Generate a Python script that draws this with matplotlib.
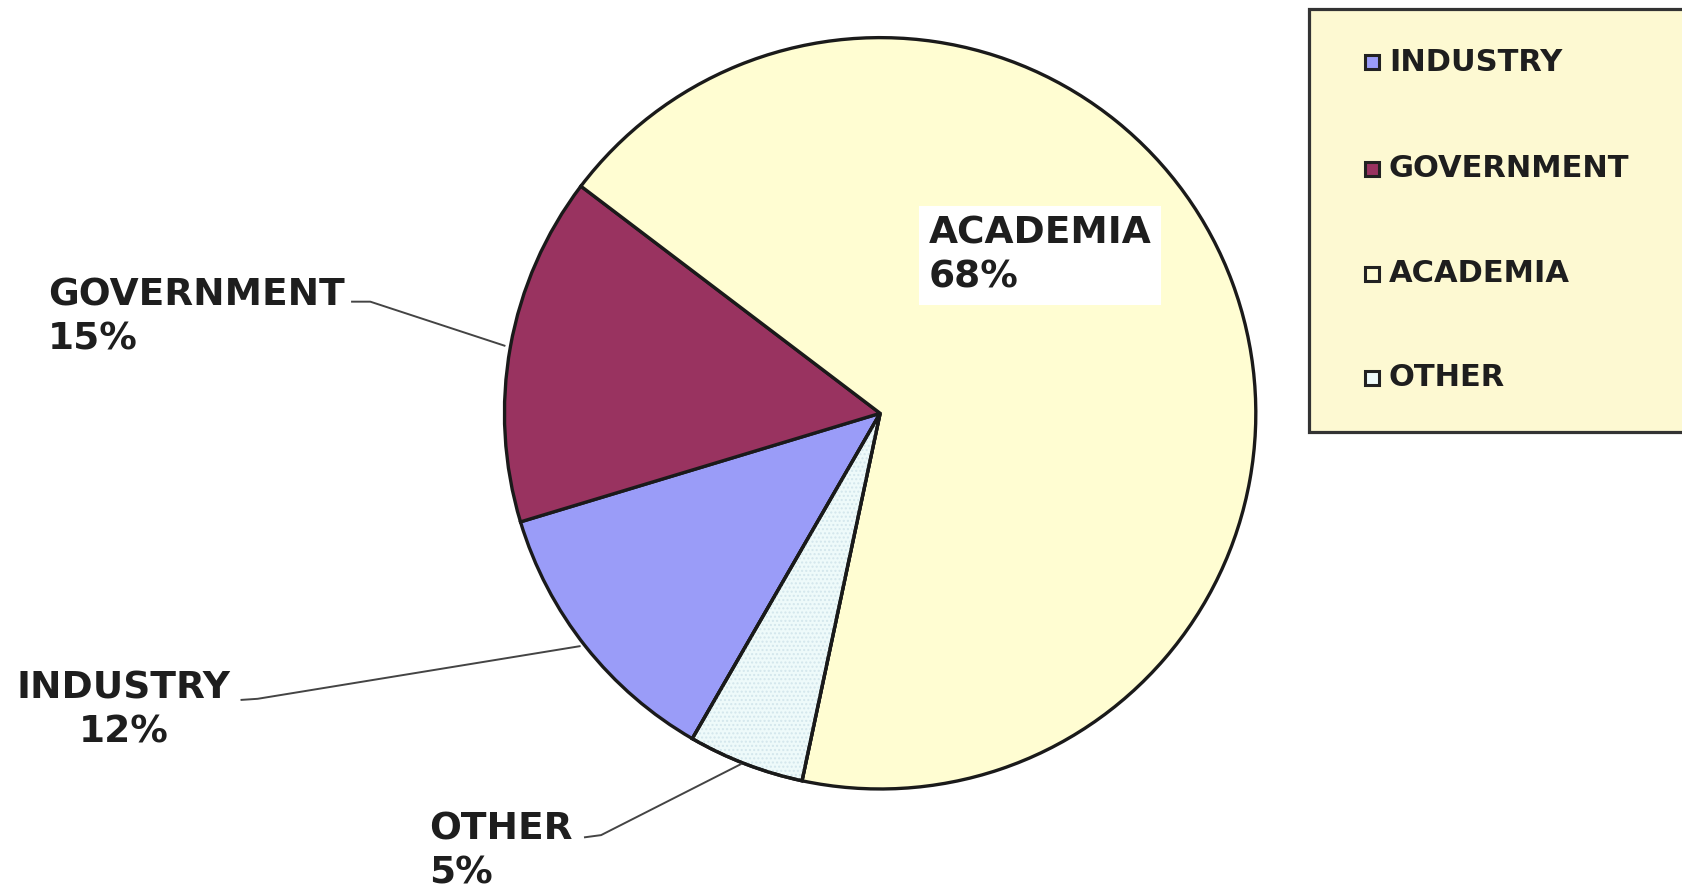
import matplotlib.pyplot as plt
from matplotlib.patches import Rectangle, Wedge

# donnees
categories = ['INDUSTRY', 'GOVERNMENT', 'ACADEMIA', 'OTHER']
valeurs = [12, 15, 68, 5]
couleurs = ['#9A9CF8', '#993360', '#FFFDD2', '#EEFAFA']
etiquettes = ['INDUSTRY\n12%', 'GOVERNMENT\n15%', 'ACADEMIA\n68%', 'OTHER\n5%']

# repere : 1568 x 830 unites (la figure fait 1683 x 891 px)
W, H = 1568, 830
fig = plt.figure(figsize=(16.83, 8.91), dpi=100)
ax = fig.add_axes([0, 0, 1, 1])

def py(y):
    # coordonnees image -> axes
    return H - y

centre = (820, py(385))
bord = '#1a1a1a'
wedges, _ = ax.pie(valeurs, colors=couleurs, startangle=240, counterclock=False,
                   center=centre, radius=350, frame=True,
                   wedgeprops=dict(edgecolor=bord, linewidth=2.4))
ax.set_xlim(0, W)
ax.set_ylim(0, H)
ax.axis('off')

# motif pointille sur OTHER
w = wedges[3]
ax.add_patch(Wedge(w.center, w.r, w.theta1, w.theta2, fill=False, hatch='....',
                   edgecolor='#d3e6ec', linewidth=0, zorder=w.get_zorder() + 0.1))
ax.add_patch(Wedge(w.center, w.r, w.theta1, w.theta2, fill=False,
                   edgecolor=bord, linewidth=2.4, zorder=w.get_zorder() + 0.2))

police = 'DejaVu Sans'
noir = '#1e1e1e'
trait = '#444444'

# etiquettes
ax.text(45, py(296), etiquettes[1], ha='left', va='center', fontsize=27,
        fontweight='bold', family=police, linespacing=1.3, color=noir)
ax.plot([328, 345, 470], [py(281), py(281), py(322)], color=trait, lw=1.4)

ax.text(115, py(662), etiquettes[0], ha='center', va='center', fontsize=27,
        fontweight='bold', family=police, linespacing=1.3, color=noir)
ax.plot([225, 240, 540], [py(652), py(651), py(602)], color=trait, lw=1.4)

ax.text(400, py(793), etiquettes[3], ha='left', va='center', fontsize=27,
        fontweight='bold', family=police, linespacing=1.3, color=noir)
ax.plot([545, 560, 690], [py(780), py(778), py(712)], color=trait, lw=1.4)

ax.text(865, py(238), etiquettes[2], ha='left', va='center', fontsize=27,
        fontweight='bold', family=police, linespacing=1.3, color=noir,
        bbox=dict(facecolor='white', edgecolor='none', pad=7))

# legende
ax.add_patch(Rectangle((1220, py(402)), 420, 394, facecolor='#FDF9D2',
                       edgecolor='#333333', linewidth=2.3, clip_on=False))
lignes_y = [58, 157, 255, 352]
for cat, coul, yy in zip(categories, couleurs, lignes_y):
    ax.add_patch(Rectangle((1272, py(yy) - 6.5), 13, 13, facecolor=coul,
                           edgecolor='#222222', linewidth=2.2))
    ax.text(1294, py(yy), cat, ha='left', va='center', fontsize=22,
            fontweight='bold', family=police, color=noir)

fig.savefig('out.png', dpi=100)
